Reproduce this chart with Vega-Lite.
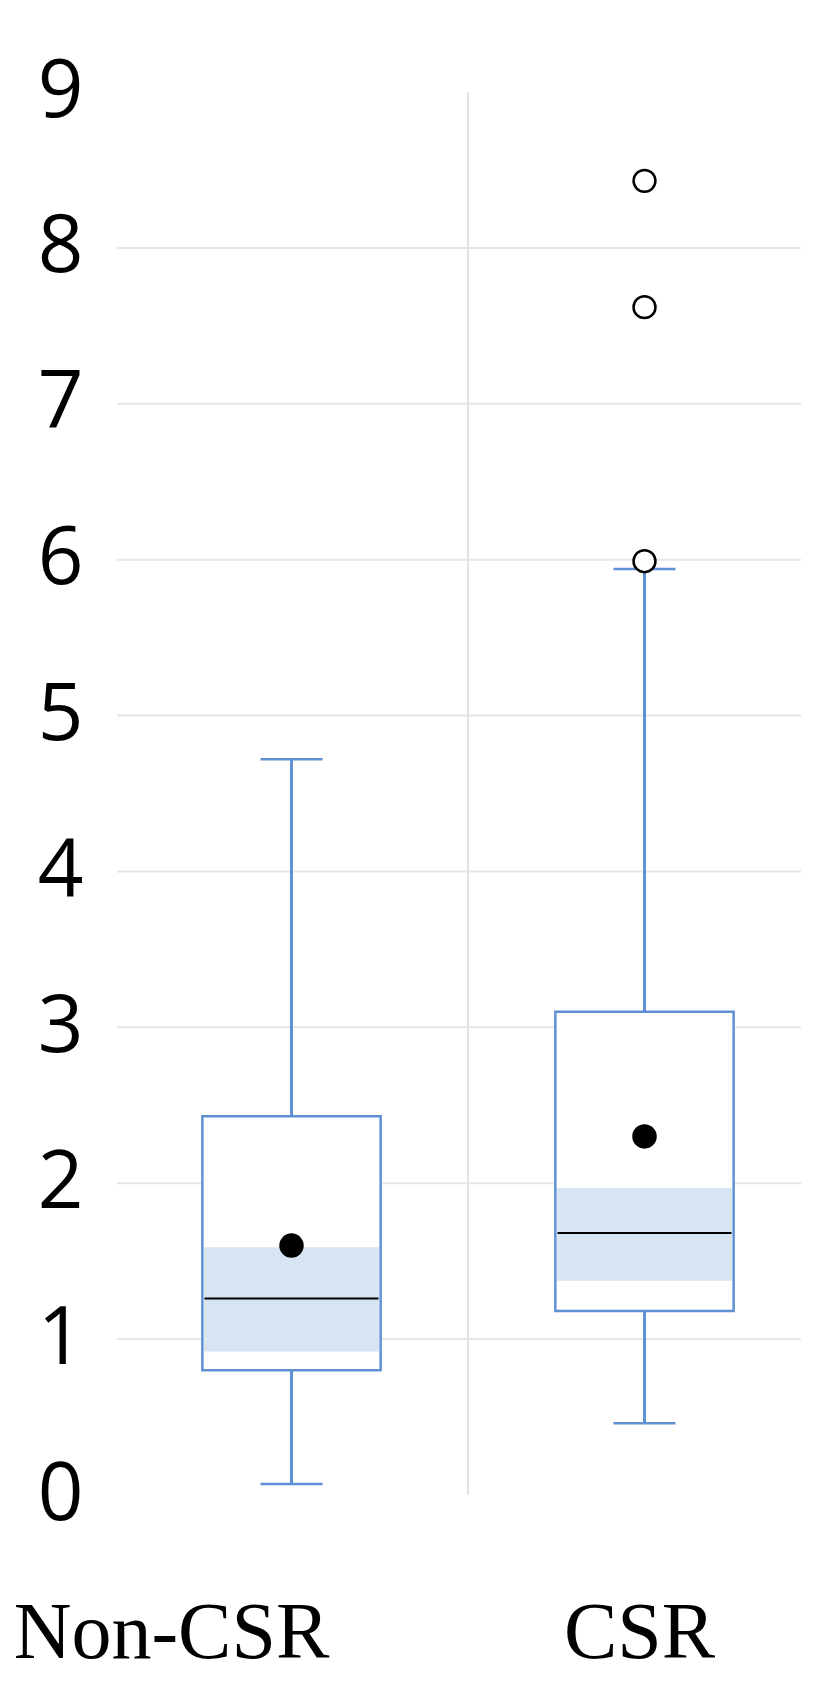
{
  "$schema": "https://vega.github.io/schema/vega-lite/v6.json",
  "autosize": "none",
  "padding": {"left": 117, "top": 92, "right": 35, "bottom": 202},
  "width": 684,
  "height": 1403,
  "background": "white",
  "config": {
    "view": {"stroke": null},
    "axisY": {
      "domain": false, "ticks": false, "grid": false, "format": "d",
      "labelFont": "Liberation Sans Narrow, Open Sans", "labelFontSize": 80, "labelColor": "black",
      "labelPadding": 34, "labelBaseline": "middle"
    }
  },
  "datasets": {
    "stats": [
      {"group": "Non-CSR", "lower": 0.07, "q1": 0.80, "median": 1.26, "q3": 2.43, "upper": 4.72, "mean": 1.60, "ci_low": 0.92, "ci_high": 1.59},
      {"group": "CSR", "lower": 0.46, "q1": 1.18, "median": 1.68, "q3": 3.10, "upper": 5.94, "mean": 2.30, "ci_low": 1.375, "ci_high": 1.97}
    ],
    "outliers": [
      {"group": "CSR", "value": 8.43},
      {"group": "CSR", "value": 7.62},
      {"group": "CSR", "value": 5.99}
    ],
    "grid": [
      {"value": 1}, {"value": 2}, {"value": 3}, {"value": 4},
      {"value": 5}, {"value": 6}, {"value": 7}, {"value": 8}
    ]
  },
  "data": {"name": "stats"},
  "encoding": {
    "x": {
      "field": "group", "type": "nominal", "sort": ["Non-CSR", "CSR"],
      "scale": {"range": [-2, 704], "paddingInner": 0, "paddingOuter": 0},
      "axis": {
        "title": null, "domain": false, "ticks": false, "grid": false, "labelAngle": 0,
        "labelFont": "Liberation Serif", "labelFontSize": 80, "labelColor": "black",
        "labelPadding": 162, "labelBaseline": "alphabetic", "labelLimit": 0,
        "labelOffset": {"condition": {"test": "datum.value === 'Non-CSR'", "value": -120}, "value": -5}
      }
    }
  },
  "layer": [
    {
      "data": {"name": "grid"},
      "mark": {"type": "rule", "color": "#e6e6e6", "strokeWidth": 2},
      "encoding": {
        "x": null,
        "y": {"field": "value", "type": "quantitative", "title": null,
              "scale": {"domain": [0, 9], "nice": false},
              "axis": {"title": null, "format": "d", "values": [0, 1, 2, 3, 4, 5, 6, 7, 8, 9]}}
      }
    },
    {
      "transform": [{"filter": "datum.group === 'CSR'"}],
      "mark": {"type": "rule", "color": "#e3e3e3", "strokeWidth": 2},
      "encoding": {
        "x": {"field": "group", "type": "nominal", "sort": ["Non-CSR", "CSR"], "bandPosition": 0,
              "scale": {"range": [-2, 704], "paddingInner": 0, "paddingOuter": 0}},
        "y": {"datum": 0, "type": "quantitative", "title": null, "scale": {"domain": [0, 9], "nice": false}},
        "y2": {"datum": 9}
      }
    },
    {
      "mark": {"type": "rule", "color": "#5f91d4", "strokeWidth": 3},
      "encoding": {
        "y": {"field": "lower", "type": "quantitative", "title": null, "scale": {"domain": [0, 9], "nice": false}},
        "y2": {"field": "q1"}
      }
    },
    {
      "mark": {"type": "rule", "color": "#5f91d4", "strokeWidth": 3},
      "encoding": {
        "y": {"field": "q3", "type": "quantitative", "title": null, "scale": {"domain": [0, 9], "nice": false}},
        "y2": {"field": "upper"}
      }
    },
    {
      "mark": {"type": "tick", "color": "#5f91d4", "size": 62, "thickness": 2.5, "opacity": 1},
      "encoding": {
        "y": {"field": "lower", "type": "quantitative", "title": null, "scale": {"domain": [0, 9], "nice": false}}
      }
    },
    {
      "mark": {"type": "tick", "color": "#5f91d4", "size": 62, "thickness": 2.5, "opacity": 1},
      "encoding": {
        "y": {"field": "upper", "type": "quantitative", "title": null, "scale": {"domain": [0, 9], "nice": false}}
      }
    },
    {
      "mark": {"type": "bar", "fill": "white", "width": {"band": 0.505}},
      "encoding": {
        "y": {"field": "q1", "type": "quantitative", "title": null, "scale": {"domain": [0, 9], "nice": false}},
        "y2": {"field": "q3"}
      }
    },
    {
      "mark": {"type": "bar", "fill": "#d7e4f2", "width": {"band": 0.495}},
      "encoding": {
        "y": {"field": "ci_low", "type": "quantitative", "title": null, "scale": {"domain": [0, 9], "nice": false}},
        "y2": {"field": "ci_high"}
      }
    },
    {
      "mark": {"type": "bar", "fill": null, "fillOpacity": 0, "stroke": "#5f91d4", "strokeWidth": 2.5, "width": {"band": 0.505}},
      "encoding": {
        "y": {"field": "q1", "type": "quantitative", "title": null, "scale": {"domain": [0, 9], "nice": false}},
        "y2": {"field": "q3"}
      }
    },
    {
      "mark": {"type": "tick", "color": "black", "size": 174, "thickness": 2, "opacity": 1},
      "encoding": {
        "y": {"field": "median", "type": "quantitative", "title": null, "scale": {"domain": [0, 9], "nice": false}}
      }
    },
    {
      "mark": {"type": "point", "shape": "circle", "filled": true, "color": "black", "size": 600, "opacity": 1},
      "encoding": {
        "y": {"field": "mean", "type": "quantitative", "title": null, "scale": {"domain": [0, 9], "nice": false}}
      }
    },
    {
      "data": {"name": "outliers"},
      "mark": {"type": "point", "shape": "circle", "fill": "white", "fillOpacity": 1, "stroke": "black", "strokeWidth": 2.5, "size": 480, "opacity": 1},
      "encoding": {
        "y": {"field": "value", "type": "quantitative", "title": null, "scale": {"domain": [0, 9], "nice": false}}
      }
    }
  ]
}
